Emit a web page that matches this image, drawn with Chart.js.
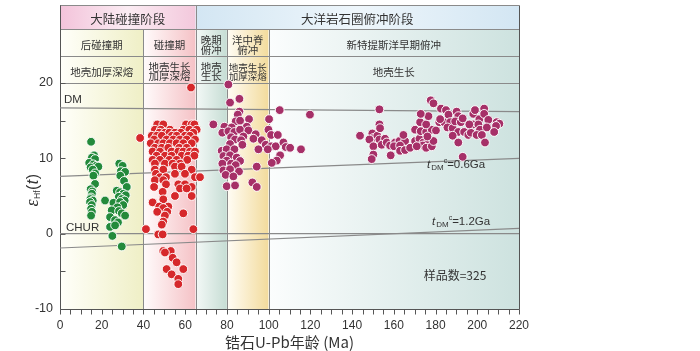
<!DOCTYPE html>
<html>
<head>
<meta charset="utf-8">
<script src="https://cdn.jsdelivr.net/npm/chart.js@4.4.0/dist/chart.umd.min.js"></script>
<style>
  body { margin: 0; background: #fff; }
</style>
</head>
<body>
<canvas id="hfChart" width="700" height="351"></canvas>
<script>
// 锆石 Hf 同位素 - 年龄图
const stageAges = [0, 40, 65, 80, 100, 220];
const phaseBounds = [0, 65, 220];
const phaseNames = ['大陆碰撞阶段', '大洋岩石圈俯冲阶段'];
const periodNames = ['后碰撞期', '碰撞期', '晚期\n俯冲', '洋中脊\n俯冲', '新特提斯洋早期俯冲'];
const processNames = ['地壳加厚深熔', '地壳生长\n加厚深熔', '地壳\n生长', '地壳生长\n加厚深熔', '地壳生长'];

const xTickStep = 20;
const yTickValues = [-10, 0, 10, 20];

// [年龄 Ma, εHf(t)]
const postCollision = [
  [14.9,12.2],[16.3,10.4],[15.3,10.1],[16.8,9.9],[14.0,9.4],[16.0,9.2],[17.3,9.0],[18.4,8.9],
  [14.7,8.8],[15.7,8.5],[16.8,8.0],[16.0,7.7],[16.8,6.6],[14.7,5.9],[15.5,5.6],[15.3,5.3],
  [14.9,4.8],[14.6,4.6],[15.7,4.4],[14.4,4.2],[15.2,3.8],[14.9,3.3],[15.3,2.9],[14.9,2.4],
  [28.4,9.3],[30.0,9.0],[29.2,8.3],[31.2,8.2],[28.9,7.7],[30.7,7.0],[32.0,6.2],[27.2,5.7],
  [28.8,5.5],[30.3,5.3],[31.5,5.1],[28.2,4.9],[29.6,4.6],[31.0,4.4],[21.6,4.4],[25.6,4.1],
  [28.8,4.2],[30.3,3.8],[27.5,3.5],[24.8,3.1],[28.3,3.0],[29.6,2.7],[31.2,2.4],[24.0,2.2],
  [26.4,1.8],[27.8,1.5],[24.0,0.9],[26.4,1.1],[25.1,-0.3],[29.6,-1.7]
];

const collision = [
  [62.8,19.4],[38.4,12.7],
  [46.6,14.5],[49.5,14.5],[60.4,14.5],[63.1,14.5],[64.4,14.5],
  [45.5,13.8],[48.3,13.8],[52.7,13.8],[59.1,13.8],[62.0,13.8],[65.5,13.8],
  [47.6,13.4],[50.3,13.4],[52.4,13.4],[55.1,13.4],[57.9,13.4],[63.9,13.4],
  [44.0,13.0],[46.4,13.0],[48.8,13.0],[53.6,13.0],[55.9,13.0],[59.9,13.0],[62.3,13.0],
  [45.1,12.5],[51.1,12.5],[54.3,12.5],[57.5,12.5],[60.7,12.5],[64.7,12.5],
  [43.5,12.0],[47.1,12.0],[49.5,12.0],[52.7,12.0],[55.9,12.0],[59.1,12.0],[63.1,12.0],
  [45.5,11.4],[48.8,11.4],[51.9,11.4],[57.2,11.4],[60.7,11.4],
  [44.4,10.9],[47.9,10.9],[53.5,10.9],[56.7,10.9],[59.1,10.9],[62.3,10.9],[64.7,10.9],
  [46.3,10.35],[50.3,10.35],[53.5,10.35],[58.3,10.35],[61.5,10.35],[64.4,10.35],
  [44.4,9.8],[47.9,9.8],[52.4,9.8],[55.9,9.8],[61.0,9.8],
  [45.5,9.3],[50.3,9.3],[54.0,9.3],[57.5,9.3],
  [55.1,8.9],[58.3,8.9],
  [45.5,8.5],[49.5,8.5],[63.1,8.5],
  [46.0,7.95],[55.1,7.95],[59.9,7.95],
  [47.9,7.5],[50.8,7.5],[64.7,7.5],[67.1,7.5],
  [45.5,7.1],[49.5,7.1],
  [50.8,6.55],[56.7,6.55],[59.9,6.55],
  [45.1,6.2],[63.1,6.2],[57.5,6.0],[60.7,6.0],
  [49.2,5.55],[55.1,5.0],[63.1,5.0],[49.5,4.55],[44.4,4.15],
  [47.6,3.6],[51.9,3.6],[49.5,3.4],[46.6,2.9],[51.4,2.9],[59.1,2.7],[50.3,2.4],
  [49.5,1.6],[48.8,1.2],[41.2,0.6],[63.9,0.6],[47.1,-0.1],[49.2,-0.1],
  [49.5,-2.3],[53.1,-2.3],[50.3,-2.5],[54.0,-3.2],[55.9,-3.8],[51.1,-4.7],[59.1,-4.7],
  [53.5,-5.4],[56.7,-6.0],[56.7,-6.7]
];

const subduction = [
  [80.7,19.8],[81.5,17.4],[86.0,17.9],[105.3,16.4],[119.8,15.8],[86.0,16.2],[85.2,15.8],
  [90.6,15.2],[84.2,14.9],[86.3,15.0],[100.2,15.2],[73.5,14.5],[78.8,14.2],[82.3,14.1],
  [89.5,14.2],[77.8,13.4],[80.7,13.6],[83.6,13.5],[86.3,13.8],[90.3,13.7],[99.9,13.8],
  [93.8,13.2],[82.0,12.8],[87.9,12.9],[101.2,13.1],[104.4,13.1],[83.9,12.5],[86.8,12.4],
  [92.7,12.6],[96.7,12.4],[81.5,11.9],[87.4,11.8],[98.6,11.8],[101.2,11.6],[103.4,11.6],
  [107.1,12.1],[108.2,11.5],[110.3,11.4],[115.5,11.2],[77.5,11.0],[79.9,11.2],[83.6,11.2],
  [95.1,11.2],[99.6,11.2],[78.3,10.3],[81.5,10.4],[84.7,10.1],[105.5,10.4],[79.9,9.7],
  [86.3,9.65],[103.9,9.7],[77.8,9.3],[82.0,9.3],[84.2,9.1],[101.5,9.4],[78.3,8.4],
  [81.5,8.55],[85.8,8.25],[94.3,8.9],[79.4,7.8],[83.1,7.6],[92.2,6.8],[79.9,6.3],
  [83.9,6.4],[94.3,6.2],
  [153.1,16.5],[143.8,13.0],[149.7,13.3],[150.2,12.7],[152.1,13.0],[153.1,14.5],[153.4,14.0],
  [148.3,12.5],[153.1,12.5],[155.8,12.6],[150.2,11.6],[154.2,11.8],[156.6,12.1],[158.2,11.7],
  [160.6,12.1],[162.7,12.3],[165.4,12.3],[160.1,11.6],[163.0,11.7],[150.2,10.5],[149.4,9.9],
  [158.5,10.4],[163.0,11.0],[165.4,11.1],[167.8,11.4],[170.2,12.3],[172.3,12.6],[174.2,12.1],
  [176.6,12.3],[173.9,11.7],[175.5,11.4],[178.2,11.6],[179.0,12.3],[170.2,13.8],[172.9,13.6],
  [175.5,13.5],[178.2,13.8],[180.2,13.7],[176.1,12.9],[172.6,14.8],[175.5,14.5],[176.6,15.6],
  [172.9,15.9],[177.7,17.7],[179.0,17.3],[182.6,16.6],[185.0,16.4],[181.8,14.8],[184.1,14.8],
  [186.2,15.8],[187.0,14.8],[185.7,14.1],[188.2,14.0],[190.1,16.2],[190.9,15.6],[189.4,14.9],
  [192.1,14.8],[193.0,15.3],[190.9,13.5],[193.7,13.5],[188.2,13.0],[190.9,12.1],[195.7,13.1],
  [196.9,13.4],[198.1,14.5],[198.1,15.9],[198.9,16.4],[201.0,15.2],[200.5,14.5],[201.3,13.8],
  [199.7,13.1],[202.2,13.1],[203.3,16.6],[203.3,15.9],[205.3,15.1],[204.6,14.1],[209.3,14.8],
  [210.6,14.6],[209.0,14.3],[208.1,13.5],[203.7,12.1],[196.2,14.5],[193.0,10.2],[182.2,15.2],
  [171.0,11.6],[164.6,13.1]
];

// 演化线: [年龄, εHf]
const dmLine = [[0, 16.7], [220, 16.2]];
const churLine = [[0, 0], [220, 0]];
const tdm06Line = [[0, 7.6], [220, 10.0]];
const tdm12Line = [[0, -1.9], [220, 0.7]];

const sampleCount = 325;

const columnShades = [
  ['#fffffa', '#efefc6'],
  ['#fffbfb', '#f5c2c6'],
  ['#f4f9f7', '#c6ddd4'],
  ['#fffdf6', '#f3db9c'],
  ['#fbfdfd', '#cde2df']
];
const phaseShades = [
  ['#f3c3da', '#fbecf3', '#f3c8dc'],
  ['#d3e6f3', '#eef6fb', '#d3e6f3']
];

const toXY = arr => arr.map(p => ({ x: p[0], y: p[1] }));

function drawLines(ctx, text, cx, cy, lh) {
  const parts = text.split('\n');
  const start = cy - (parts.length - 1) * lh / 2;
  parts.forEach((t, i) => ctx.fillText(t, cx, start + i * lh));
}

const stagePlugin = {
  id: 'stages',
  beforeDatasetsDraw(chart) {
    const { ctx, chartArea: ca, scales: { x, y } } = chart;
    const top = ca.top, r1 = top + 24, r2 = top + 51, hb = y.getPixelForValue(20);
    ctx.save();
    // 各阶段背景
    for (let i = 0; i < stageAges.length - 1; i++) {
      const x0 = x.getPixelForValue(stageAges[i]), x1 = x.getPixelForValue(stageAges[i + 1]);
      const g = ctx.createLinearGradient(x0, 0, x1, 0);
      g.addColorStop(0, columnShades[i][0]);
      g.addColorStop(1, columnShades[i][1]);
      ctx.fillStyle = g;
      ctx.fillRect(x0, r1, x1 - x0, ca.bottom - r1);
    }
    for (let i = 0; i < phaseBounds.length - 1; i++) {
      const x0 = x.getPixelForValue(phaseBounds[i]), x1 = x.getPixelForValue(phaseBounds[i + 1]);
      const g = ctx.createLinearGradient(x0, 0, x1, 0);
      g.addColorStop(0, phaseShades[i][0]);
      g.addColorStop(0.5, phaseShades[i][1]);
      g.addColorStop(1, phaseShades[i][2]);
      ctx.fillStyle = g;
      ctx.fillRect(x0, top, x1 - x0, r1 - top);
    }

    // 表格线
    ctx.strokeStyle = '#8a8a8a';
    ctx.lineWidth = 1;
    [top, r1, r2, hb].forEach(v => {
      ctx.beginPath();
      ctx.moveTo(ca.left, Math.round(v) + 0.5);
      ctx.lineTo(ca.right, Math.round(v) + 0.5);
      ctx.stroke();
    });
    stageAges.slice(1, -1).forEach(a => {
      const xp = Math.round(x.getPixelForValue(a)) + 0.5;
      ctx.beginPath();
      ctx.moveTo(xp, phaseBounds.includes(a) ? top : r1);
      ctx.lineTo(xp, ca.bottom);
      ctx.stroke();
    });

    // 坐标轴
    ctx.strokeStyle = '#555';
    const xl = Math.round(ca.left) + 0.5, xr = Math.round(ca.right) + 0.5, yb = Math.round(ca.bottom) + 0.5;
    ctx.beginPath();
    ctx.moveTo(xl, top); ctx.lineTo(xl, yb); ctx.lineTo(xr, yb); ctx.lineTo(xr, top);
    ctx.stroke();
    for (let a = 0; a <= 220; a += 5) {
      const xp = Math.round(x.getPixelForValue(a)) + 0.5;
      ctx.beginPath(); ctx.moveTo(xp, yb); ctx.lineTo(xp, yb + 5); ctx.stroke();
    }
    for (let v = -10; v <= 20; v += 5) {
      const yp = Math.round(y.getPixelForValue(v)) + 0.5;
      ctx.beginPath(); ctx.moveTo(xl, yp); ctx.lineTo(xl + 5, yp); ctx.stroke();
    }

    // 表头文字
    ctx.fillStyle = '#333';
    ctx.textAlign = 'center';
    ctx.textBaseline = 'middle';
    ctx.font = '12.5px "Noto Sans CJK SC"';
    phaseNames.forEach((t, i) => {
      const cx = (x.getPixelForValue(phaseBounds[i]) + x.getPixelForValue(phaseBounds[i + 1])) / 2;
      ctx.fillText(t, cx, (top + r1) / 2 + 2);
    });
    periodNames.forEach((t, i) => {
      const cx = (x.getPixelForValue(stageAges[i]) + x.getPixelForValue(stageAges[i + 1])) / 2;
      ctx.font = '10.5px "Noto Sans CJK SC"';
      drawLines(ctx, t, cx, (r1 + r2) / 2 + 2, 10);
    });
    processNames.forEach((t, i) => {
      const cx = (x.getPixelForValue(stageAges[i]) + x.getPixelForValue(stageAges[i + 1])) / 2;
      ctx.font = (i === 3 ? '9.5px' : '10.5px') + ' "Noto Sans CJK SC"';
      drawLines(ctx, t, cx, (r2 + hb) / 2 + 2, 9.5);
    });
    ctx.restore();
  },
  afterDraw(chart) {
    const { ctx, chartArea: ca } = chart;
    ctx.save();
    ctx.fillStyle = '#333';
    ctx.textBaseline = 'alphabetic';
    ctx.textAlign = 'left';
    ctx.font = '11.5px "Liberation Sans"';
    ctx.fillText('DM', 64, 103);
    ctx.fillText('CHUR', 66, 231);

    // t_DM^c 标注
    const tdmLabel = (x0, base, rest) => {
      ctx.font = 'italic 11.5px "Liberation Sans"';
      ctx.fillText('t', x0, base);
      let xx = x0 + ctx.measureText('t').width + 1;
      ctx.font = '8px "Liberation Sans"';
      ctx.fillText('DM', xx, base + 2);
      xx += ctx.measureText('DM').width;
      ctx.font = '7px "Liberation Sans"';
      ctx.fillText('c', xx, base - 5);
      xx += ctx.measureText('c').width;
      ctx.font = '11.5px "Liberation Sans"';
      ctx.fillText(rest, xx, base);
    };
    tdmLabel(427, 167.5, '=0.6Ga');
    tdmLabel(432, 225, '=1.2Ga');

    ctx.font = '12px "Noto Sans CJK SC"';
    ctx.textAlign = 'center';
    ctx.fillText('样品数=' + sampleCount, 455, 280);

    ctx.textBaseline = 'middle';
    ctx.font = '15px "Noto Sans CJK SC"';
    ctx.fillText('锆石U-Pb年龄 (Ma)', (ca.left + ca.right) / 2, 342);

    // 纵轴标题 εHf(t)
    ctx.translate(38, 190);
    ctx.rotate(-Math.PI / 2);
    ctx.textAlign = 'left';
    ctx.textBaseline = 'alphabetic';
    const segs = [
      ['ε', 'italic 18px "Liberation Serif"', 0],
      ['Hf', '8.5px "Liberation Sans"', 2],
      ['(', '16px "Liberation Sans"', 0],
      ['t', 'italic 16px "Liberation Sans"', 0],
      [')', '16px "Liberation Sans"', 0]
    ];
    let total = 0;
    segs.forEach(s => { ctx.font = s[1]; total += ctx.measureText(s[0]).width + 0.5; });
    let xx = -total / 2;
    segs.forEach(s => {
      ctx.font = s[1];
      ctx.fillText(s[0], xx, s[2]);
      xx += ctx.measureText(s[0]).width + 0.5;
    });
    ctx.restore();
  }
};

const pointStyle = color => ({
  type: 'scatter',
  backgroundColor: color,
  borderColor: 'rgba(255,255,255,0.95)',
  borderWidth: 1,
  pointRadius: 4.4,
  order: 1
});
const evoLine = data => ({
  type: 'scatter',
  data: toXY(data),
  showLine: true,
  borderColor: '#8a8a8a',
  borderWidth: 1.2,
  pointRadius: 0,
  order: 5
});

new Chart(document.getElementById('hfChart'), {
  type: 'scatter',
  data: {
    datasets: [
      Object.assign({ label: '后碰撞期', data: toXY(postCollision) }, pointStyle('#238a3b')),
      Object.assign({ label: '碰撞期', data: toXY(collision) }, pointStyle('#d6282b')),
      Object.assign({ label: '俯冲期', data: toXY(subduction) }, pointStyle('#a63068')),
      evoLine(dmLine),
      evoLine(churLine),
      evoLine(tdm06Line),
      evoLine(tdm12Line)
    ]
  },
  options: {
    responsive: false,
    animation: false,
    devicePixelRatio: 1,
    layout: { padding: { left: 0, right: 181, top: 1, bottom: 0 } },
    plugins: { legend: { display: false }, tooltip: { enabled: false } },
    scales: {
      x: {
        type: 'linear',
        min: 0,
        max: 220,
        grid: { display: false, drawTicks: false },
        border: { display: false },
        ticks: { stepSize: xTickStep, padding: 9, color: '#333', font: { size: 12, family: '"Liberation Sans"' }, maxRotation: 0 },
        afterFit: s => { s.height = 42; }
      },
      y: {
        min: -10,
        max: 30.3,
        grid: { display: false, drawTicks: false },
        border: { display: false },
        afterBuildTicks: s => { s.ticks = yTickValues.map(v => ({ value: v })); },
        ticks: { padding: 7, color: '#333', font: { size: 12.5, family: '"Liberation Sans"' } },
        afterFit: s => { s.width = 60; s.paddingTop = 0; s.paddingBottom = 0; }
      }
    }
  },
  plugins: [stagePlugin]
});
</script>
</body>
</html>
